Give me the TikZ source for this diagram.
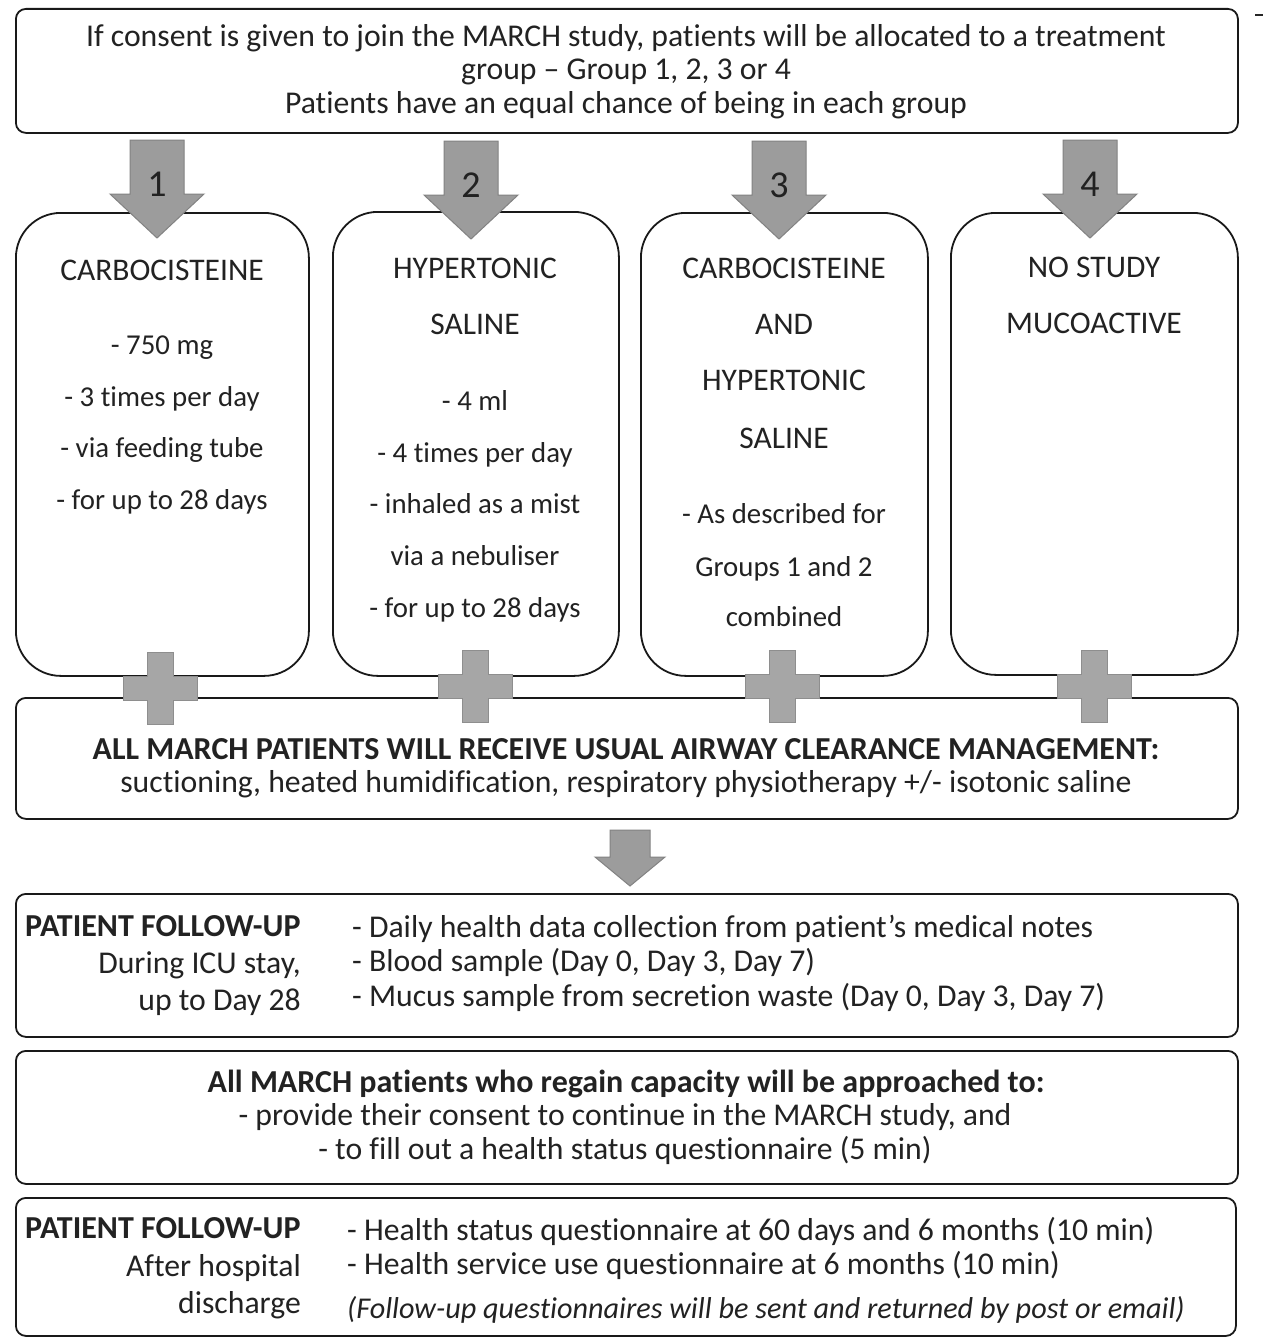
\documentclass[tikz,border=0pt]{standalone}
\usepackage{fontspec}
\setmainfont{Carlito}[Ligatures={TeX,NoCommon}]
\definecolor{txtc}{HTML}{222222}
\definecolor{arrfill}{HTML}{9C9C9C}
\definecolor{arrline}{HTML}{828282}
\definecolor{plusfill}{HTML}{A6A6A6}
\definecolor{plusline}{HTML}{8E8E8E}
\begin{document}
\begin{tikzpicture}[x=1pt,y=-1pt,
  box/.style={draw=black!90,line width=1.8pt,rounded corners=10pt,minimum width=1222pt,anchor=north west,inner sep=0pt,fill=white},
  gbox/.style={draw=black!90,line width=1.8pt,rounded corners=45pt,anchor=north west,inner sep=0pt,fill=white},
  txt/.style={font=\fontsize{31.7}{34}\selectfont,text=txtc,inner sep=0pt,anchor=base},
  txtb/.style={txt,font=\fontsize{32}{34}\selectfont\bfseries},
  gtitle/.style={txt,font=\fontsize{31.5}{34}\selectfont},
  gbody/.style={txt,font=\fontsize{28.8}{34}\selectfont},
  txtl/.style={txt,anchor=base west},
  txtr/.style={txt,anchor=base east},
  numtxt/.style={font=\fontsize{38}{40}\selectfont,text=txtc,inner sep=0pt,anchor=base},
  garrow/.style={fill=arrfill,draw=arrline,line width=1pt},
  gplus/.style={fill=plusfill,draw=plusline,line width=1pt}
]
\useasboundingbox (0,0) rectangle (1263,1338);
\fill[white] (0,0) rectangle (1263,1338);

% ---------- boxes ----------
\node[box,minimum height=124pt] (top) at (15,8) {};
\node[gbox,minimum width=293pt,minimum height=463pt] (g1) at (15,212) {};
\node[gbox,minimum width=286pt,minimum height=464pt] (g2) at (332,211) {};
\node[gbox,minimum width=287pt,minimum height=463pt] (g3) at (640,212) {};
\node[gbox,minimum width=287pt,minimum height=462pt] (g4) at (950,212) {};
\node[box,minimum height=121pt] (usual) at (15,697) {};
\node[box,minimum height=143pt] (fu1) at (15,893) {};
\node[box,minimum height=133pt] (regain) at (15,1050) {};
\node[box,minimum width=1220pt,minimum height=138pt] (fu2) at (15,1197) {};

% little mark at the top right
\coordinate (m1) at (1255,15);
\coordinate (m2) at (1263,15);
\draw[line width=1.5pt,black!85] (m1) -- (m2);

% ---------- group arrows ----------
\foreach \cx/\ty/\nm/\lbl in {157/140/a1/1, 471/141/a2/2, 779/141/a3/3, 1090/140/a4/4}{
  \coordinate (\nm) at (\cx,\ty);
  \draw[garrow] ([xshift=-27pt]\nm) -- ([xshift=27pt]\nm) -- ([xshift=27pt,yshift=-54pt]\nm)
     -- ([xshift=47pt,yshift=-54pt]\nm) -- ([yshift=-98pt]\nm) -- ([xshift=-47pt,yshift=-54pt]\nm)
     -- ([xshift=-27pt,yshift=-54pt]\nm) -- cycle;
  \node[numtxt] (n\lbl) at ([yshift=-56pt]\nm) {\lbl};
}

% ---------- plus signs ----------
\foreach \cx/\cy/\nm in {160/688/p1, 475/686/p2, 782/686/p3, 1094/686/p4}{
  \coordinate (\nm) at (\cx,\cy);
  \draw[gplus] ([shift={(-13,-36)}]\nm) -- ([shift={(13,-36)}]\nm) -- ([shift={(13,-12)}]\nm)
     -- ([shift={(37,-12)}]\nm) -- ([shift={(37,12)}]\nm) -- ([shift={(13,12)}]\nm)
     -- ([shift={(13,36)}]\nm) -- ([shift={(-13,36)}]\nm) -- ([shift={(-13,12)}]\nm)
     -- ([shift={(-37,12)}]\nm) -- ([shift={(-37,-12)}]\nm) -- ([shift={(-13,-12)}]\nm) -- cycle;
}

% ---------- down arrow ----------
\coordinate (da) at (630,830);
\draw[garrow] ([xshift=-20pt]da) -- ([xshift=20pt]da) -- ([xshift=20pt,yshift=-27pt]da)
   -- ([xshift=35pt,yshift=-27pt]da) -- ([yshift=-56pt]da) -- ([xshift=-35pt,yshift=-27pt]da)
   -- ([xshift=-20pt,yshift=-27pt]da) -- cycle;

% ---------- top text ----------
\node[txt] (t1) at (626,47) {If consent is given to join the MARCH study, patients will be allocated to a treatment};
\node[txt] (t2) at (626,80) {group – Group 1, 2, 3 or 4};
\node[txt] (t3) at (626,113) {Patients have an equal chance of being in each group};

% ---------- group 1 ----------
\node[gtitle] (g1a) at (162,280) {CARBOCISTEINE};
\node[gbody] (g1b) at (162,354) {- 750 mg};
\node[gbody] (g1c) at (162,406) {- 3 times per day};
\node[gbody] (g1d) at (162,457) {- via feeding tube};
\node[gbody] (g1e) at (162,509) {- for up to 28 days};

% ---------- group 2 ----------
\node[gtitle] (g2a) at (475,278) {HYPERTONIC};
\node[gtitle] (g2b) at (475,334) {SALINE};
\node[gbody] (g2c) at (475,410) {- 4 ml};
\node[gbody] (g2d) at (475,462) {- 4 times per day};
\node[gbody] (g2e) at (475,513) {- inhaled as a mist};
\node[gbody] (g2f) at (475,565) {via a nebuliser};
\node[gbody] (g2g) at (475,617) {- for up to 28 days};

% ---------- group 3 ----------
\node[gtitle] (g3a) at (784,278) {CARBOCISTEINE};
\node[gtitle] (g3b) at (784,334) {AND};
\node[gtitle] (g3c) at (784,390) {HYPERTONIC};
\node[gtitle] (g3d) at (784,448) {SALINE};
\node[gbody] (g3e) at (784,523) {- As described for};
\node[gbody] (g3f) at (784,576) {Groups 1 and 2};
\node[gbody] (g3g) at (784,626) {combined};

% ---------- group 4 ----------
\node[gtitle] (g4a) at (1094,277) {NO STUDY};
\node[gtitle] (g4b) at (1094,333) {MUCOACTIVE};

% ---------- usual care ----------
\node[txtb] (u1) at (626,759) {ALL MARCH PATIENTS WILL RECEIVE USUAL AIRWAY CLEARANCE MANAGEMENT:};
\node[txt] (u2) at (626,792) {suctioning, heated humidification, respiratory physiotherapy +/- isotonic saline};

% ---------- follow-up during ICU ----------
\node[txtb,anchor=base west] (f1a) at (25,936) {PATIENT FOLLOW-UP};
\node[txtr] (f1b) at (301,973) {During ICU stay,};
\node[txtr] (f1c) at (301,1010) {up to Day 28};
\node[txtl] (f1d) at (352,937) {- Daily health data collection from patient’s medical notes};
\node[txtl] (f1e) at (352,971) {- Blood sample (Day 0, Day 3, Day 7)};
\node[txtl] (f1f) at (352,1006) {- Mucus sample from secretion waste (Day 0, Day 3, Day 7)};

% ---------- regain capacity ----------
\node[txtb] (r1) at (626,1092) {All MARCH patients who regain capacity will be approached to:};
\node[txt] (r2) at (625,1125) {- provide their consent to continue in the MARCH study, and};
\node[txt] (r3) at (625,1159) {- to fill out a health status questionnaire (5 min)};

% ---------- follow-up after discharge ----------
\node[txtb,anchor=base west] (f2a) at (25,1238) {PATIENT FOLLOW-UP};
\node[txtr] (f2b) at (301,1276) {After hospital};
\node[txtr] (f2c) at (301,1313) {discharge};
\node[txtl] (f2d) at (347,1240) {- Health status questionnaire at 60 days and 6 months (10 min)};
\node[txtl] (f2e) at (347,1274) {- Health service use questionnaire at 6 months (10 min)};
\node[txtl,font=\fontsize{30.2}{32}\selectfont\itshape] (f2f) at (347,1318) {(Follow-up questionnaires will be sent and returned by post or email)};
\end{tikzpicture}
\end{document}
